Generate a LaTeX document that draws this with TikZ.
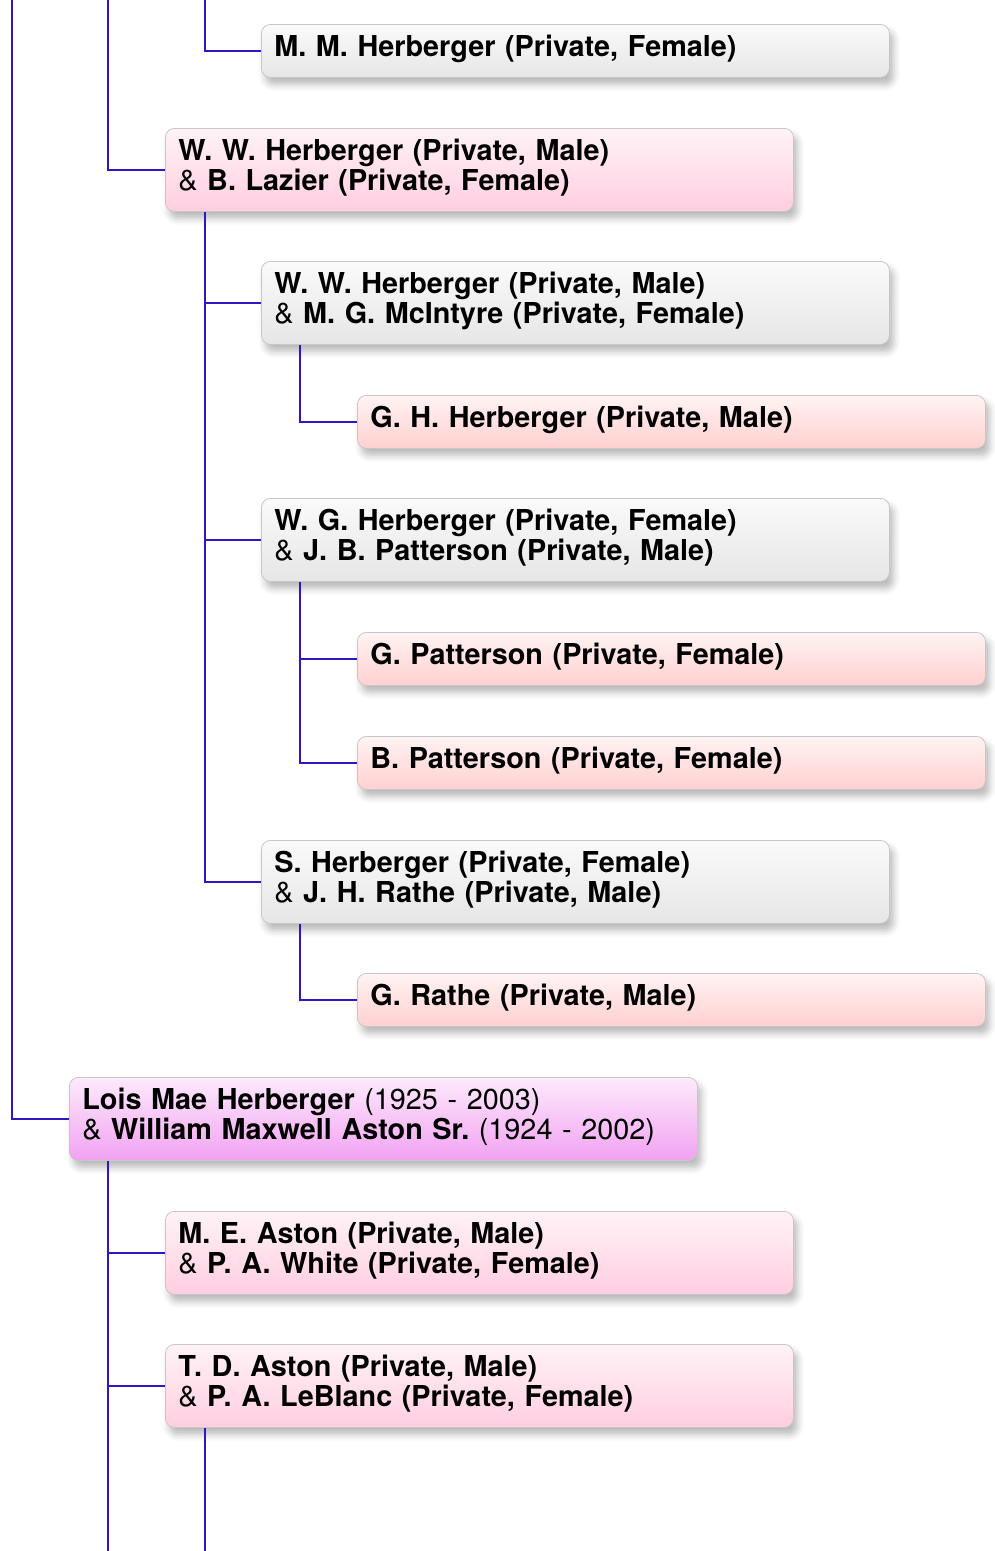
\documentclass[tikz,border=0pt]{standalone}
\usepackage{fontspec}
\setmainfont{TeX Gyre Heros}
\frenchspacing
\usetikzlibrary{shadows.blur}
\definecolor{linkblue}{RGB}{44,22,200}
\definecolor{greytop}{RGB}{250,250,250}
\definecolor{greybot}{RGB}{230,230,230}
\definecolor{pinktop}{RGB}{255,242,247}
\definecolor{pinkbot}{RGB}{255,206,224}
\definecolor{rosetop}{RGB}{255,243,243}
\definecolor{rosebot}{RGB}{255,208,208}
\definecolor{mauvetop}{RGB}{253,234,252}
\definecolor{mauvebot}{RGB}{241,162,241}
\begin{document}
\begin{tikzpicture}[x=1pt, y=-1pt,
    box/.style={draw=black!22, line width=0.8pt, rounded corners=9pt,
      text width=602pt, inner xsep=13pt, inner ysep=0pt, align=left, anchor=north west,
      font=\fontsize{28.8}{30}\selectfont,
      blur shadow={shadow xshift=4pt, shadow yshift=-7pt, shadow blur radius=7pt, shadow opacity=28}},
    one/.style={box, minimum height=53pt, text depth=10pt},
    two/.style={box, minimum height=83pt, text depth=40pt},
    grey/.style={top color=greytop, bottom color=greybot},
    pink/.style={top color=pinktop, bottom color=pinkbot},
    rose/.style={top color=rosetop, bottom color=rosebot},
    mauve/.style={top color=mauvetop, bottom color=mauvebot},
    link/.style={draw=linkblue, line width=1.2pt}]
  \useasboundingbox (0,0) rectangle (995,1551);
  % Herberger branch
  \node[one, grey] (mm) at (261,24) {\textbf{M. M. Herberger (Private, Female)}};
  \node[two, pink] (ww) at (165,128) {\textbf{W. W. Herberger (Private, Male)}\\ \& \textbf{B. Lazier (Private, Female)}};
  \node[two, grey] (wwm) at (261,261) {\textbf{W. W. Herberger (Private, Male)}\\ \& \textbf{M. G. McIntyre (Private, Female)}};
  \node[one, rose] (gh) at (357,395) {\textbf{G. H. Herberger (Private, Male)}};
  \node[two, grey] (wg) at (261,498) {\textbf{W. G. Herberger (Private, Female)}\\ \& \textbf{J. B. Patterson (Private, Male)}};
  \node[one, rose] (gp) at (357,632) {\textbf{G. Patterson (Private, Female)}};
  \node[one, rose] (bp) at (357,736) {\textbf{B. Patterson (Private, Female)}};
  \node[two, grey] (sh) at (261,840) {\textbf{S. Herberger (Private, Female)}\\ \& \textbf{J. H. Rathe (Private, Male)}};
  \node[one, rose] (gr) at (357,973) {\textbf{G. Rathe (Private, Male)}};
  % Aston branch
  \node[two, mauve] (lois) at (69,1077) {\textbf{Lois Mae Herberger} (1925 - 2003)\\ \& \textbf{William Maxwell Aston Sr.} (1924 - 2002)};
  \node[two, pink] (me) at (165,1211) {\textbf{M. E. Aston (Private, Male)}\\ \& \textbf{P. A. White (Private, Female)}};
  \node[two, pink] (td) at (165,1344) {\textbf{T. D. Aston (Private, Male)}\\ \& \textbf{P. A. LeBlanc (Private, Female)}};
  % loose ends
  \coordinate (top1) at (12,0);
  \coordinate (top2) at (108,0);
  \coordinate (top3) at (205,0);
  \coordinate (bot2) at (108,1551);
  \coordinate (bot3) at (205,1551);
  % connectors
  \draw[link] (top3) |- (mm.west);
  \draw[link] (top2) |- (ww.west);
  \draw[link] (top1) |- (lois.west);
  \draw[link] ([xshift=40pt]ww.south west) |- (wwm.west);
  \draw[link] ([xshift=40pt]ww.south west) |- (wg.west);
  \draw[link] ([xshift=40pt]ww.south west) |- (sh.west);
  \draw[link] ([xshift=39pt]wwm.south west) |- (gh.west);
  \draw[link] ([xshift=39pt]wg.south west) |- (gp.west);
  \draw[link] ([xshift=39pt]wg.south west) |- (bp.west);
  \draw[link] ([xshift=39pt]sh.south west) |- (gr.west);
  \draw[link] ([xshift=39pt]lois.south west) |- (me.west);
  \draw[link] ([xshift=39pt]lois.south west) |- (td.west);
  \draw[link] ([xshift=39pt]lois.south west) -- (bot2);
  \draw[link] ([xshift=40pt]td.south west) -- (bot3);
\end{tikzpicture}
\end{document}
